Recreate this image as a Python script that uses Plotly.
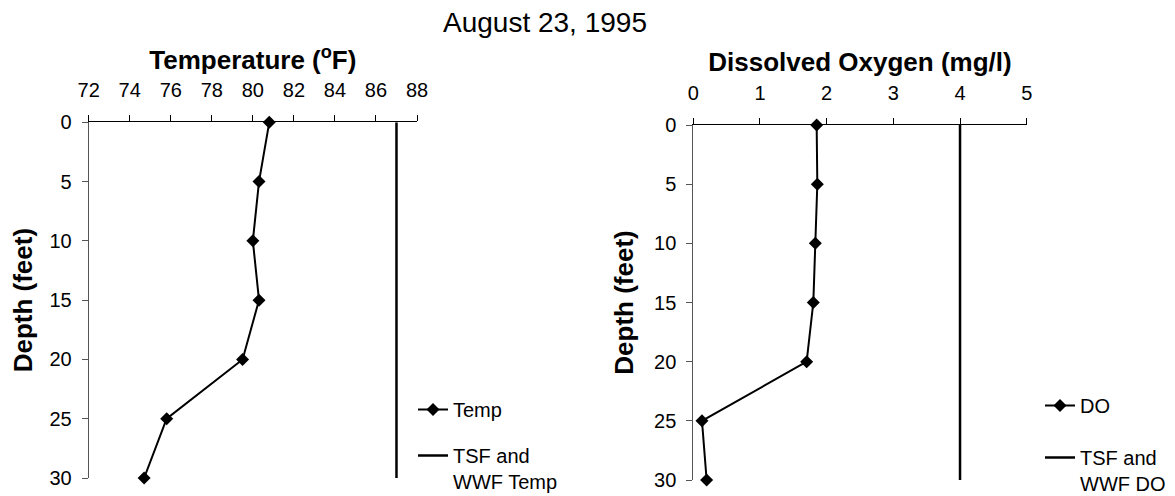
import plotly.graph_objects as go

# ---- data ----
depth = [0, 5, 10, 15, 20, 25, 30]
temp_f = [80.8, 80.3, 80.0, 80.3, 79.5, 75.8, 74.7]
do_mgl = [1.85, 1.86, 1.83, 1.80, 1.70, 0.13, 0.20]
std_depth = [0, 30]
tsf_temp = [87, 87]
tsf_do = [4, 4]

temp_ticks = [72, 74, 76, 78, 80, 82, 84, 86, 88]
do_ticks = [0, 1, 2, 3, 4, 5]
depth_ticks = [0, 5, 10, 15, 20, 25, 30]

FONT = "Liberation Sans, Arial, sans-serif"
OFF = 8                      # page body margin
W, H = 1175 - OFF, 496 - OFF


def px(x):
    return (x - OFF) / W


def py(y):
    return 1 - (y - OFF) / H


fig = go.Figure()

fig.add_trace(go.Scatter(
    x=temp_f, y=depth, mode="lines+markers", name="Temp",
    line=dict(color="black", width=2),
    marker=dict(symbol="diamond", size=10, color="black"),
    xaxis="x", yaxis="y", legend="legend", legendgroup="a", cliponaxis=False))
fig.add_trace(go.Scatter(
    x=tsf_temp, y=std_depth, mode="lines", name="TSF and<br>WWF Temp",
    line=dict(color="black", width=2.5),
    xaxis="x", yaxis="y", legend="legend", legendgroup="b", cliponaxis=False))
fig.add_trace(go.Scatter(
    x=do_mgl, y=depth, mode="lines+markers", name="DO",
    line=dict(color="black", width=2),
    marker=dict(symbol="diamond", size=10, color="black"),
    xaxis="x2", yaxis="y2", legend="legend2", legendgroup="c", cliponaxis=False))
fig.add_trace(go.Scatter(
    x=tsf_do, y=std_depth, mode="lines", name="TSF and<br>WWF DO",
    line=dict(color="black", width=2.5),
    xaxis="x2", yaxis="y2", legend="legend2", legendgroup="d", cliponaxis=False))


def xax(rng, ticks, title, domain, anchor):
    return dict(
        domain=domain, anchor=anchor, side="top", range=rng,
        tickmode="array", tickvals=ticks, ticks="outside", ticklen=6,
        tickcolor="black", showline=True, linecolor="black", linewidth=1,
        showgrid=False, zeroline=False, ticklabelstandoff=10,
        automargin=False,
        tickfont=dict(size=20, color="black", family=FONT),
        title=dict(text=title, standoff=2,
                   font=dict(size=26, color="black", family=FONT)))


def yax(domain, anchor, color, standoff):
    return dict(
        domain=domain, anchor=anchor, range=[30, 0],
        tickmode="array", tickvals=depth_ticks, ticks="outside", ticklen=6,
        tickcolor=color, showline=True, linecolor=color, linewidth=1,
        showgrid=False, zeroline=False, ticklabelstandoff=6,
        automargin=False,
        tickfont=dict(size=20, color="black", family=FONT),
        title=dict(text="<b>Depth (feet)</b>", standoff=standoff,
                   font=dict(size=26, color="black", family=FONT)))


fig.update_layout(
    width=W, height=H,
    margin=dict(l=0, r=0, t=0, b=0, autoexpand=False),
    paper_bgcolor="white", plot_bgcolor="white",
    font=dict(family=FONT, color="black"),
    title=dict(text="August 23, 1995", x=px(545), xanchor="center",
               y=py(22.5), yanchor="middle", yref="container", xref="paper",
               font=dict(size=28, color="black", family=FONT)),
    xaxis=xax([72, 88], temp_ticks, "<b>Temperature (<sup>o</sup>F)</b>",
              [px(88.7), px(417)], "y"),
    yaxis=yax([py(478), py(122.3)], "x", "#555555", 16),
    xaxis2=xax([0, 5], do_ticks, "<b>Dissolved Oxygen (mg/l)</b>",
               [px(693.3), px(1026.7)], "y2"),
    yaxis2=yax([py(480), py(125)], "x2", "#555555", 12),
    legend=dict(x=px(413), y=py(390), xanchor="left", yanchor="top",
                bgcolor="rgba(0,0,0,0)", valign="top", tracegroupgap=17,
                traceorder="grouped",
                font=dict(size=20, color="black", family=FONT)),
    legend2=dict(x=px(1040), y=py(386), xanchor="left", yanchor="top",
                 bgcolor="rgba(0,0,0,0)", valign="top", tracegroupgap=23,
                 traceorder="grouped",
                 font=dict(size=20, color="black", family=FONT)),
    showlegend=True,
)

fig.write_html("out.html")
